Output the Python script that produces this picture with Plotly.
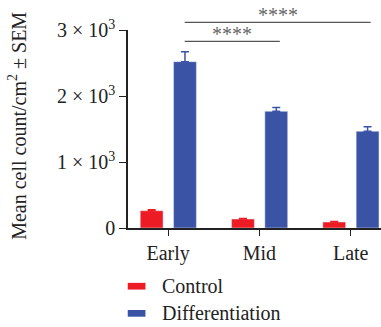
import plotly.graph_objects as go

categories = ["Early", "Mid", "Late"]
control = [262, 136, 91]
control_err = [14, 8, 7]
diff = [2520, 1768, 1465]
diff_err = [150, 58, 70]
ytick_vals = [0, 1000, 2000, 3000]
ytick_text = ["0", "1 × 10<sup>3</sup>", "2 × 10<sup>3</sup>", "3 × 10<sup>3</sup>"]
series_names = ["Control", "Differentiation"]
RED = "#ED1C24"
BLUE = "#3A53A4"
FONT = "Liberation Serif"

fig = go.Figure()
fig.add_trace(go.Bar(
    x=categories, y=control, name=series_names[0], marker_color=RED,
    width=0.25, offset=-0.305, showlegend=False,
    error_y=dict(type="data", symmetric=False, array=control_err,
                 arrayminus=[0] * 3, color=RED, thickness=1.5, width=4),
))
fig.add_trace(go.Bar(
    x=categories, y=diff, name=series_names[1], marker_color=BLUE,
    width=0.25, offset=0.06, showlegend=False,
    error_y=dict(type="data", symmetric=False, array=diff_err,
                 arrayminus=[0] * 3, color=BLUE, thickness=1.5, width=4),
))

# significance brackets
sig_color = "#555555"
fig.add_shape(type="line", xref="paper", yref="paper", x0=0.224, x1=0.959,
              y0=1.039, y1=1.039, line=dict(color=sig_color, width=1.2))
fig.add_shape(type="line", xref="paper", yref="paper", x0=0.224, x1=0.600,
              y0=0.943, y1=0.943, line=dict(color=sig_color, width=1.2))
fig.add_annotation(text="****", xref="paper", yref="paper", x=0.591, y=1.039,
                   yanchor="bottom", showarrow=False, yshift=-6,
                   font=dict(family=FONT, size=20, color="#666666"))
fig.add_annotation(text="****", xref="paper", yref="paper", x=0.410, y=0.943,
                   yanchor="bottom", showarrow=False, yshift=-6,
                   font=dict(family=FONT, size=20, color="#666666"))

# y-axis title
fig.add_annotation(text="Mean cell count/cm<sup>2</sup> ± SEM", xref="paper", yref="paper",
                   x=-0.4365, y=0.514, textangle=-90, showarrow=False,
                   xanchor="center", yanchor="middle",
                   font=dict(family=FONT, size=20, color="#222222"))

# legend
for i, (name, col) in enumerate(zip(series_names, [RED, BLUE])):
    yc = -0.294 - i * 0.137
    fig.add_shape(type="rect", xref="paper", yref="paper", x0=-0.001, x1=0.069,
                  y0=yc - 0.017, y1=yc + 0.017, fillcolor=col, line=dict(width=0))
    fig.add_annotation(text=name, xref="paper", yref="paper", x=0.125, y=yc,
                       xanchor="left", yanchor="middle", showarrow=False,
                       font=dict(family=FONT, size=20, color="#222222"))

fig.update_layout(
    width=381, height=327,
    margin=dict(l=128, r=0, t=30, b=99),
    plot_bgcolor="white", paper_bgcolor="white",
    barmode="overlay",
    font=dict(family=FONT, size=20, color="#222222"),
)
fig.update_xaxes(range=[-0.439, 2.332], showline=True, linecolor="#222222", linewidth=1.5,
                 ticks="outside", ticklen=6, tickcolor="#222222", tickwidth=1.2,
                 showgrid=False, zeroline=False, tickfont=dict(family=FONT, size=20))
fig.update_yaxes(range=[0, 3000], showline=True, linecolor="#222222", linewidth=1.5,
                 ticks="outside", ticklen=7, tickcolor="#222222", tickwidth=1.2,
                 tickvals=ytick_vals, ticktext=ytick_text,
                 showgrid=False, zeroline=False, tickfont=dict(family=FONT, size=20))

fig.write_html("out.html")
